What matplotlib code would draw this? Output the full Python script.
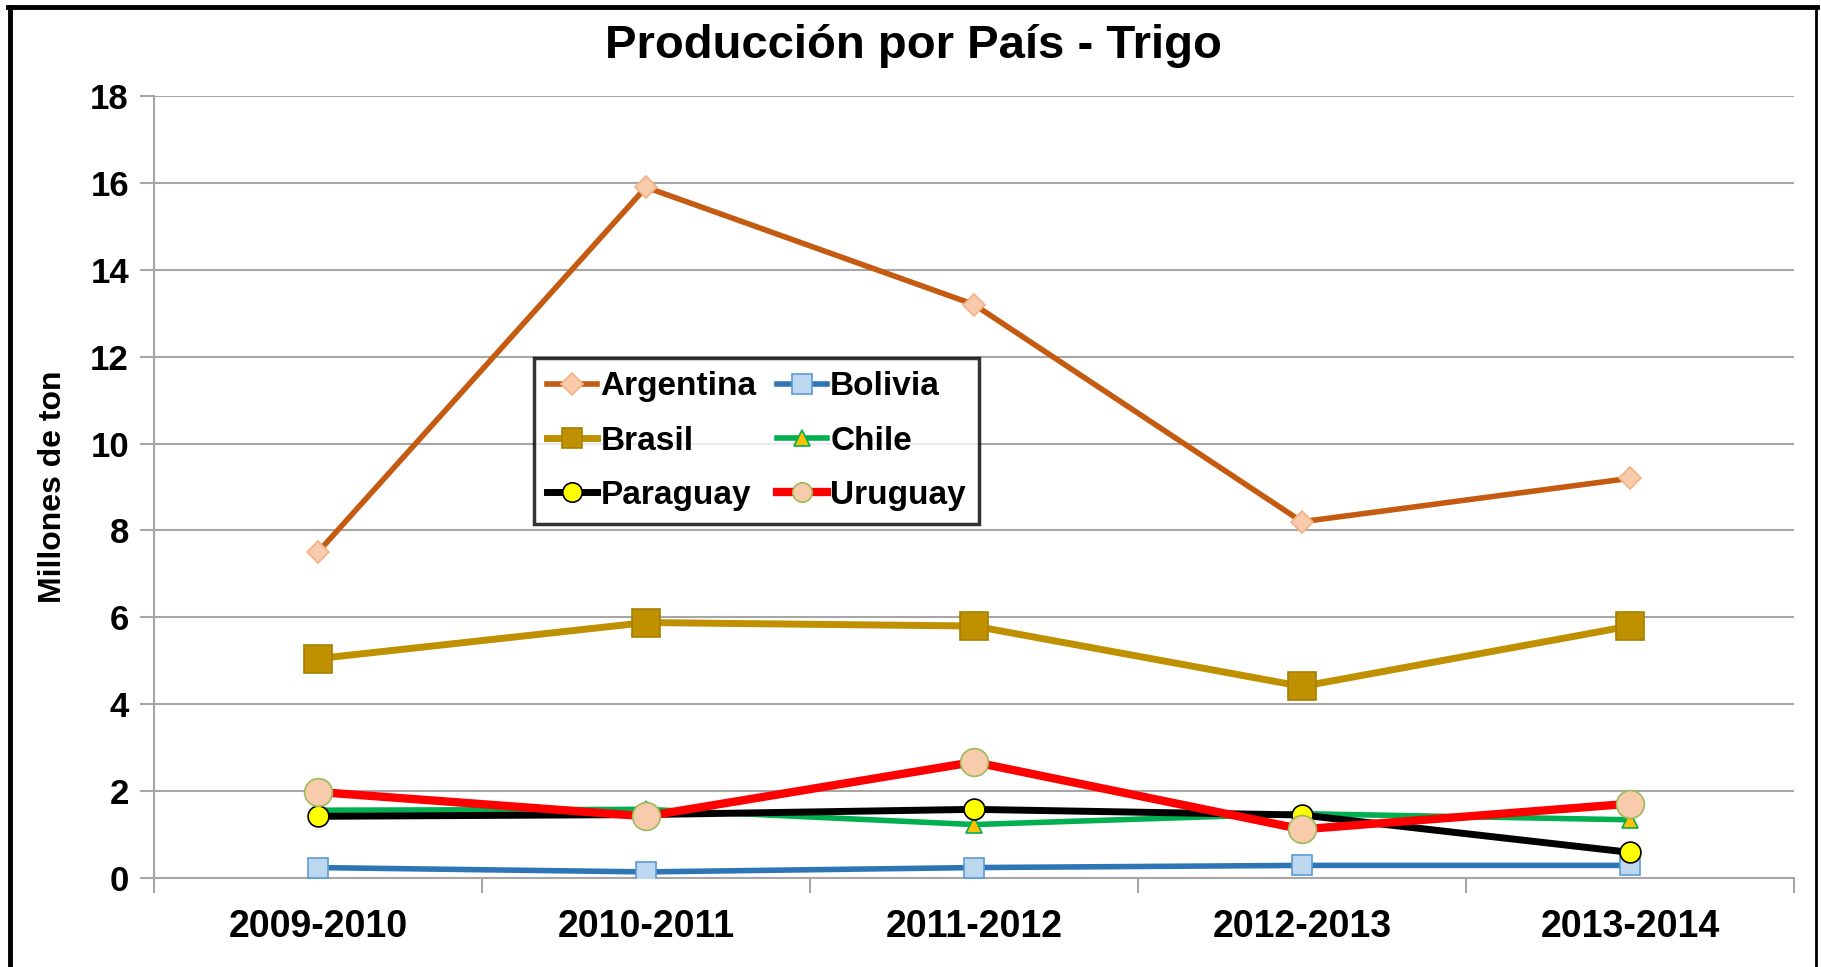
import matplotlib.pyplot as plt
from matplotlib.lines import Line2D
from matplotlib.ticker import FixedLocator, MultipleLocator

plt.rcParams['font.family'] = ['Liberation Sans', 'DejaVu Sans']
plt.rcParams['font.weight'] = 'bold'

campaigns = ['2009-2010', '2010-2011', '2011-2012', '2012-2013', '2013-2014']

argentina = [7.5, 15.9, 13.2, 8.2, 9.2]
bolivia = [0.24, 0.14, 0.24, 0.29, 0.29]
brasil = [5.05, 5.88, 5.8, 4.41, 5.8]
chile = [1.56, 1.58, 1.23, 1.48, 1.34]
paraguay = [1.42, 1.46, 1.58, 1.45, 0.59]
uruguay = [1.98, 1.42, 2.67, 1.12, 1.71]

W, H = 1821, 967
fig = plt.figure(figsize=(W / 100, H / 100), dpi=100)
ax = fig.add_axes([154 / W, 1 - 878 / H, (1794 - 154) / W, (878 - 96) / H])

x = range(len(campaigns))

l_arg, = ax.plot(x, argentina, color='#C55A11', lw=4, marker='D', ms=11,
                 mfc='#F8CBAD', mec='#F4B183', mew=1.2, label='Argentina', zorder=3)
l_bol, = ax.plot(x, bolivia, color='#2E75B6', lw=4, marker='s', ms=15,
                 mfc='#BDD7EE', mec='#5B9BD5', mew=1.2, label='Bolivia', zorder=3)
l_bra, = ax.plot(x, brasil, color='#BF9000', lw=5, marker='s', ms=20,
                 mfc='#BF9000', mec='#A68000', mew=1.2, label='Brasil', zorder=3)
l_chi, = ax.plot(x, chile, color='#00B050', lw=4, marker='^', ms=11,
                 mfc='#FFC000', mec='#00B050', mew=1.2, label='Chile', zorder=3)
l_par, = ax.plot(x, paraguay, color='black', lw=5, marker='o', ms=15,
                 mfc='#FFFF00', mec='black', mew=1.2, label='Paraguay', zorder=3)
l_uru, = ax.plot(x, uruguay, color='#FF0000', lw=6, marker='o', ms=20,
                 mfc='#F8CBAD', mec='#9BBB59', mew=1.2, label='Uruguay', zorder=3)

ax.set_xlim(-0.5, len(campaigns) - 0.5)
ax.set_ylim(0, 18)
ax.yaxis.set_major_locator(MultipleLocator(2))
ax.set_xticks(list(x))
ax.set_xticklabels(campaigns)
ax.xaxis.set_minor_locator(FixedLocator([i - 0.5 for i in range(len(campaigns) + 1)]))
ax.tick_params(axis='x', which='major', length=0, pad=22, labelsize=27)
ax.tick_params(axis='x', which='minor', length=11, width=1.5, color='#A6A6A6')
ax.tick_params(axis='y', length=10, width=1.5, color='#A6A6A6', pad=8, labelsize=25)

ax.grid(axis='y', color='#A6A6A6', lw=1.5)
ax.set_axisbelow(True)
for side in ['top', 'right']:
    ax.spines[side].set_visible(False)
for side in ['left', 'bottom']:
    ax.spines[side].set_color('#A6A6A6')
    ax.spines[side].set_linewidth(1.5)

ax.set_ylabel('Millones de ton', fontsize=23, fontweight='bold', labelpad=16)

fig.text(913 / W, 1 - 46 / H, 'Producción por País - Trigo', fontsize=34,
         fontweight='bold', ha='center', va='center')

# legend filled row by row: Argentina Bolivia / Brasil Chile / Paraguay Uruguay
handles = [l_arg, l_bra, l_par, l_bol, l_chi, l_uru]
leg = ax.legend(handles=handles, labels=[h.get_label() for h in handles],
                ncol=2, loc='upper left', bbox_to_anchor=(534 / W, 1 - 358 / H),
                bbox_transform=fig.transFigure, fontsize=24, frameon=True,
                fancybox=False, edgecolor='black', handlelength=1.5,
                handletextpad=0.1, columnspacing=0.6, labelspacing=0.7,
                borderpad=0.4, borderaxespad=0)
leg.get_frame().set_linewidth(2.5)
for h in leg.legend_handles:
    h.set_markersize(min(h.get_markersize(), 14))

# outer frame of the chart
fig.add_artist(Line2D([10 / W, 10 / W], [0, 1 - 7 / H], color='black', lw=3.5,
                      transform=fig.transFigure))
fig.add_artist(Line2D([8 / W, 1817 / W], [1 - 7 / H, 1 - 7 / H], color='black', lw=3.5,
                      transform=fig.transFigure))
fig.add_artist(Line2D([1816 / W, 1816 / W], [0, 1 - 7 / H], color='black', lw=2,
                      transform=fig.transFigure))

fig.savefig('out.png', dpi=100)
